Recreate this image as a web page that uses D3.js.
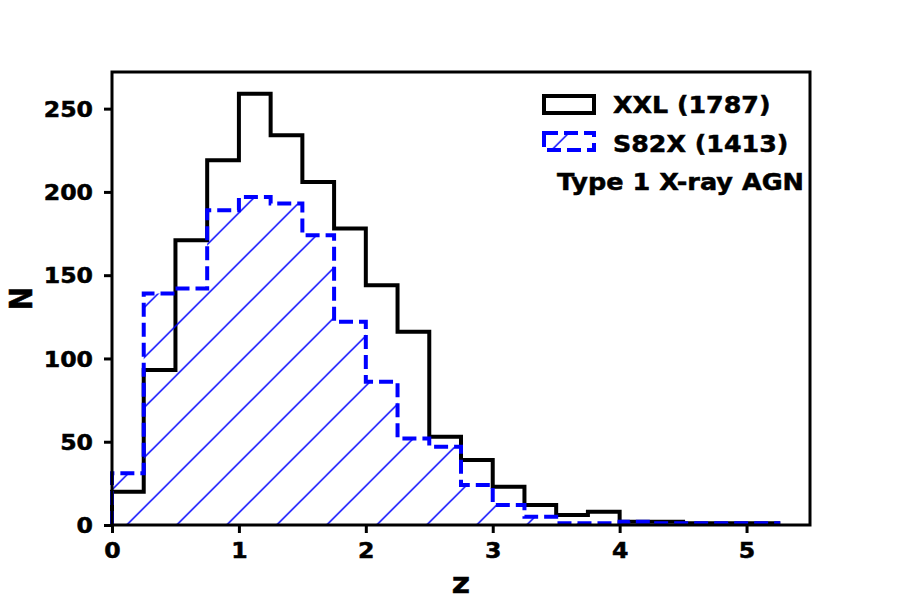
<!DOCTYPE html>
<html><head><meta charset="utf-8">
<script src="https://cdn.jsdelivr.net/npm/d3@7"></script>
<style>body{margin:0;background:#fff}</style>
</head><body>
<svg id="chart" width="900" height="600" xmlns="http://www.w3.org/2000/svg"></svg>
<script>
// ---- data ----
const binEdges = [0,0.25,0.5,0.75,1,1.25,1.5,1.75,2,2.25,2.5,2.75,3,3.25,3.5,3.75,4,4.25,4.5,4.75,5,5.25];
const xxlCounts = [20,93,171,219,259,234,206,178,144,116,53,39,23,12,6,8,2,2,1,1,1];
const s82xCounts = [31,139,142,189,197,193,174,122,86,52,47,24,12,5,1,1,2,1,1,1,1];
const xTicks = [0,1,2,3,4,5];
const yTicks = [0,50,100,150,200,250];
const seriesNames = ["XXL (1787)", "S82X (1413)"];
const annotation = "Type 1 X-ray AGN";
const xLabel = "z";
const yLabel = "N";

// ---- layout ----
const L = 112, R = 810, T = 72, B = 525;
const SX = 1.125; // horizontal text stretch seen in the reference
const font = "DejaVu Sans";
const svg = d3.select("#chart");
const x = d3.scaleLinear().domain([0, 5.5]).range([L, R]);
const y = d3.scaleLinear().domain([0, 272]).range([B, T]);

// hatch pattern
const defs = svg.append("defs");
const pat = defs.append("pattern").attr("id","hatch").attr("patternUnits","userSpaceOnUse")
  .attr("x",1.7).attr("y",0).attr("width",50).attr("height",50);
[[-5,5,5,-5],[0,50,50,0],[45,55,55,45]].forEach(s=>{
  pat.append("line").attr("x1",s[0]).attr("y1",s[1]).attr("x2",s[2]).attr("y2",s[3])
    .attr("stroke","#0000ff").attr("stroke-width",1.5);
});

function stepPts(counts){
  const pts = [[binEdges[0],0]];
  counts.forEach((c,i)=>pts.push([binEdges[i],c]));
  pts.push([binEdges[counts.length], counts[counts.length-1]]);
  pts.push([binEdges[counts.length], 0]);
  return pts;
}
const stepLine = d3.line().x(d=>x(d[0])).y(d=>y(d[1])).curve(d3.curveStepAfter);

// XXL step (black)
svg.append("path").attr("d", stepLine(stepPts(xxlCounts)))
  .attr("fill","none").attr("stroke","#000").attr("stroke-width",4).attr("stroke-linejoin","miter");

// S82X hatch fill
svg.append("path").attr("d", stepLine(stepPts(s82xCounts)) + "Z")
  .attr("fill","url(#hatch)").attr("stroke","none");
// S82X dashed edge
svg.append("path").attr("d", stepLine(stepPts(s82xCounts)))
  .attr("fill","none").attr("stroke","#0000ff").attr("stroke-width",4)
  .attr("stroke-dasharray","14,6").attr("stroke-linejoin","miter");

// axes
const xAxis = svg.append("g").attr("transform",`translate(0,${B})`)
  .call(d3.axisBottom(x).tickValues(xTicks).tickSize(8).tickPadding(10).tickFormat(d3.format("d")));
const yAxis = svg.append("g").attr("transform",`translate(${L},0)`)
  .call(d3.axisLeft(y).tickValues(yTicks).tickSize(8).tickPadding(10).tickFormat(d3.format("d")));
[xAxis,yAxis].forEach(g=>{
  g.select(".domain").remove();
  g.selectAll(".tick line").attr("stroke","#000").attr("stroke-width",3);
  g.selectAll(".tick text").attr("fill","#000").attr("font-family",font)
    .attr("font-weight","bold").attr("font-size",21)
    .attr("stroke","#000").attr("stroke-width",0.5);
});
xAxis.selectAll(".tick text").attr("transform",`scale(${SX},1)`);
yAxis.selectAll(".tick text").attr("x",-19/SX).attr("dy","0.36em").attr("transform",`scale(${SX},1)`);

// frame
svg.append("rect").attr("x",L).attr("y",T).attr("width",R-L).attr("height",B-T)
  .attr("fill","none").attr("stroke","#000").attr("stroke-width",3);

// axis labels
svg.append("text").attr("transform",`translate(${(L+R)/2},593) scale(${SX},1)`)
  .attr("text-anchor","middle").attr("font-family",font).attr("font-weight","bold")
  .attr("font-size",28).attr("stroke","#000").attr("stroke-width",0.5).text(xLabel);
svg.append("text").attr("transform",`translate(32,${(T+B)/2}) rotate(-90) scale(1,${SX})`)
  .attr("text-anchor","middle").attr("font-family",font).attr("font-weight","bold")
  .attr("font-size",28).attr("stroke","#000").attr("stroke-width",0.5).text(yLabel);

// legend
const lg = svg.append("g");
lg.append("rect").attr("x",544).attr("y",96).attr("width",50).attr("height",17)
  .attr("fill","none").attr("stroke","#000").attr("stroke-width",4);
lg.append("rect").attr("x",544).attr("y",133).attr("width",50).attr("height",17)
  .attr("fill","url(#hatch)").attr("stroke","none");
lg.append("rect").attr("x",544).attr("y",133).attr("width",50).attr("height",17)
  .attr("fill","none").attr("stroke","#0000ff").attr("stroke-width",4).attr("stroke-dasharray","14,6");
[[seriesNames[0],113],[seriesNames[1],152]].forEach(([t,yy])=>{
  lg.append("text").attr("transform",`translate(613,${yy}) scale(${SX},1)`)
    .attr("font-family",font).attr("font-weight","bold").attr("font-size",22.5)
    .attr("stroke","#000").attr("stroke-width",0.5).text(t);
});
lg.append("text").attr("transform",`translate(804,190) scale(${SX},1)`).attr("text-anchor","end")
  .attr("font-family",font).attr("font-weight","bold").attr("font-size",22.7)
  .attr("stroke","#000").attr("stroke-width",0.5).text(annotation);
</script>
</body></html>
